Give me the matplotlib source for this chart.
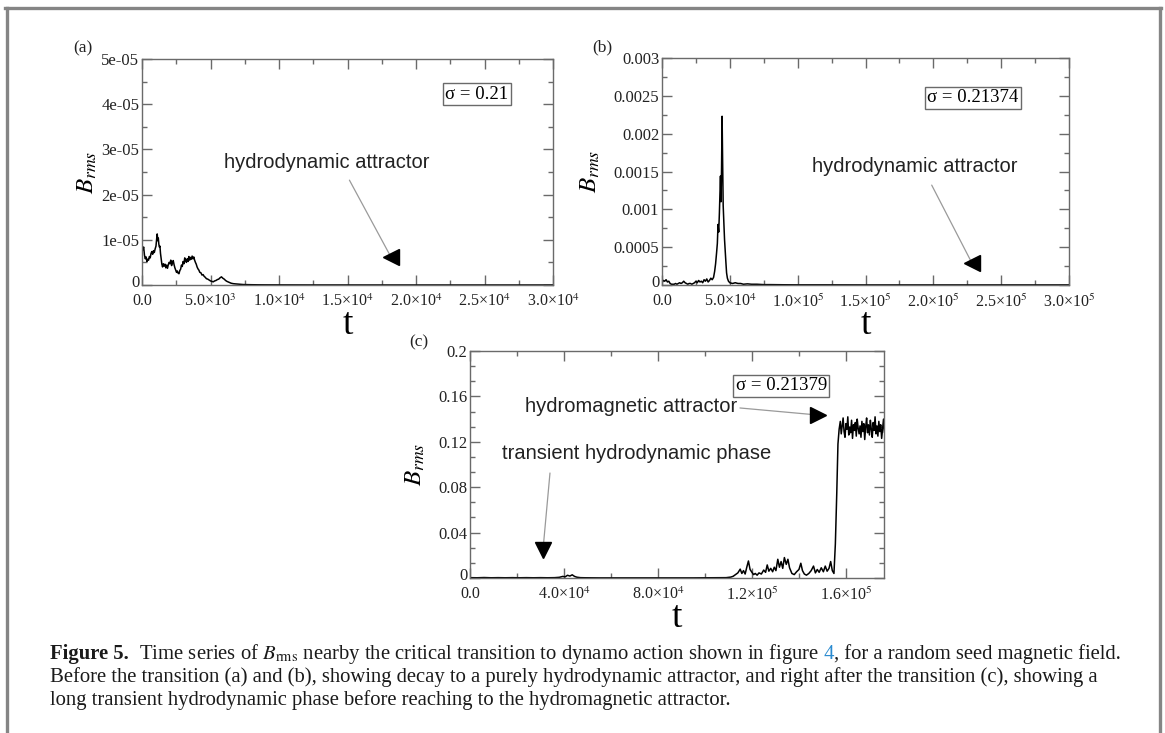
import numpy as np
import matplotlib
matplotlib.use("Agg")
import matplotlib.pyplot as plt
import matplotlib.transforms as mtransforms
from matplotlib.ticker import AutoMinorLocator
from matplotlib.lines import Line2D

plt.rcParams["font.family"] = ["Liberation Serif", "DejaVu Serif"]
plt.rcParams["mathtext.fontset"] = "stix"

# ---- panel (a): sigma = 0.21, B_rms in units of 1e-5 ----
t_a = [0, 60, 120, 180, 240, 300, 360, 420, 480, 540, 600, 660, 720, 780, 840, 900,
       960, 1020, 1070, 1110, 1150, 1190, 1230, 1270, 1310, 1350, 1400, 1450, 1500,
       1560, 1620, 1680, 1740, 1800, 1860, 1920, 1980, 2040, 2100, 2160, 2220, 2280,
       2340, 2400, 2460, 2520, 2580, 2640, 2700, 2760, 2820, 2880, 2940, 3000, 3060,
       3120, 3180, 3240, 3300, 3360, 3420, 3480, 3540, 3600, 3660, 3720, 3780, 3840,
       3900, 3960, 4020, 4080, 4150, 4220, 4300, 4380, 4460, 4540, 4620, 4700, 4800,
       4900, 5000, 5100, 5200, 5300, 5400, 5500, 5600, 5700, 5800, 5900, 6000, 6100,
       6200, 6350, 6500, 6650, 6800, 7000, 7200, 7400, 7700, 8000, 8500, 9000, 10000,
       11000, 12000, 14000, 16000, 18000, 20000, 22000, 24000, 26000, 28000, 30000]
b_a = [0.88, 0.78, 0.84, 0.66, 0.58, 0.62, 0.52, 0.57, 0.55, 0.63, 0.60, 0.70, 0.74,
       0.68, 0.76, 0.72, 0.80, 0.86, 1.02, 1.13, 0.98, 1.04, 0.90, 0.84, 0.86, 0.70,
       0.58, 0.46, 0.40, 0.47, 0.42, 0.46, 0.38, 0.44, 0.37, 0.45, 0.50, 0.47, 0.55,
       0.43, 0.50, 0.54, 0.45, 0.38, 0.33, 0.28, 0.31, 0.26, 0.25, 0.32, 0.35,
       0.44, 0.41, 0.52, 0.47, 0.60, 0.54, 0.50, 0.58, 0.52, 0.63, 0.55, 0.61, 0.57,
       0.64, 0.58, 0.62, 0.55, 0.50, 0.46, 0.40, 0.36, 0.33, 0.28, 0.27, 0.22, 0.23,
       0.19, 0.17, 0.14, 0.13, 0.11, 0.09, 0.08, 0.07, 0.09, 0.10, 0.12, 0.13, 0.16,
       0.18, 0.15, 0.13, 0.10, 0.08, 0.06, 0.04, 0.03, 0.025, 0.02, 0.015, 0.01, 0.008,
       0.006, 0.004, 0.003, 0.002, 0.0015, 0.001, 0.0008, 0.0006, 0.0005, 0.0004,
       0.0003, 0.0003, 0.0002, 0.0002, 0.0002]

# ---- panel (b): sigma = 0.21374, t in units of 1e3, B_rms in units of 1e-3 ----
t_b = [0, 1, 2, 3, 4, 5, 6, 7, 8, 9, 10, 11, 12, 13, 14, 15, 16, 17, 18, 19, 20, 21,
       22, 23, 24, 25, 26, 27, 28, 29, 30, 31, 32, 33, 34, 35, 36, 37, 38,
       38.8, 39.5, 40.2, 40.8, 41.3, 41.8, 42.3, 42.7, 43.1, 43.5, 43.9, 44.3, 44.7,
       45.1, 45.6, 46.1, 46.6, 47.1, 47.6, 48.2, 49,
       50, 52, 54, 56, 58, 60, 63, 66, 70, 75, 80, 90, 100, 120, 150, 200, 250, 300]
b_b = [0.03, 0.06, 0.05, 0.07, 0.04, 0.05, 0.02, 0.01, 0.01, 0.01, 0.02, 0.01, 0.02,
       0.03, 0.02, 0.03, 0.05, 0.03, 0.02, 0.01, 0.02, 0.02, 0.01, 0.02, 0.03, 0.05,
       0.03, 0.06, 0.04, 0.05, 0.03, 0.07, 0.05, 0.08, 0.04, 0.06, 0.09, 0.07, 0.10,
       0.18, 0.28, 0.42, 0.55, 0.80, 0.70, 0.95, 1.20, 1.44, 1.10, 1.55, 2.23, 1.62,
       1.05, 0.82, 0.60, 0.45, 0.30, 0.16, 0.09, 0.05,
       0.03, 0.02, 0.03, 0.02, 0.02, 0.01, 0.015, 0.01, 0.01, 0.005, 0.005, 0.003,
       0.002, 0.002, 0.001, 0.001, 0.001, 0.001]

# ---- panel (c): sigma = 0.21379, t in units of 1e3 ----
t_c = [0, 3, 6, 9, 12, 15, 18, 21, 24, 27, 30, 33, 36, 38, 39.5, 40.5, 41.5, 42.5,
       43.5, 44.5, 45.5, 47, 49, 55, 65, 75, 85, 95, 105, 109,
       111, 112, 113, 114, 115, 115.7, 116.4, 117.1, 117.8, 118.5, 119.2, 120, 120.7,
       121.4, 122.2, 123, 124, 125, 125.8, 126.5, 127.2, 128, 128.8, 129.5, 130.2,
       131, 131.7, 132.4, 133.1, 133.8, 134.6, 135.3, 136, 137, 138, 139, 140, 140.8,
       141.5, 142.3, 143.2, 144.2, 145.2, 146.2, 147, 147.8, 148.6, 149.5, 150.4,
       151.2, 152, 152.8, 153.5, 154.2, 154.9,
       155.5, 156.1, 156.6, 157.1,
       157.6, 158.0, 158.4, 158.8, 159.2, 159.6, 160.0, 160.4, 160.8, 161.2, 161.6,
       162.0, 162.4, 162.8, 163.2, 163.6, 164.0, 164.4, 164.8, 165.2, 165.6, 166.0,
       166.4, 166.8, 167.2, 167.6, 168.0, 168.4, 168.8, 169.2, 169.6, 170.0, 170.4,
       170.8, 171.2, 171.6, 172.0, 172.4, 172.8, 173.2, 173.6, 174.0, 174.4, 174.8,
       175.2, 175.6, 176.0, 176.4, 176.8, 177.2]
b_c = [0.0003, 0.0002, 0.0004, 0.0002, 0.0003, 0.0002, 0.0003, 0.0002, 0.0003,
       0.0002, 0.0003, 0.0002, 0.0003, 0.0006, 0.0014, 0.0010, 0.0024, 0.0017,
       0.0028, 0.0014, 0.0007, 0.0003, 0.0002, 0.0001, 0.0001, 0.0001, 0.0001,
       0.0001, 0.0002, 0.0003,
       0.0008, 0.0015, 0.003, 0.0045, 0.0078, 0.004, 0.0065, 0.0035, 0.0095, 0.015,
       0.0075, 0.005, 0.003, 0.004, 0.0025, 0.0045, 0.0035, 0.007, 0.005, 0.0115,
       0.006, 0.0085, 0.0055, 0.0095, 0.0065, 0.0165, 0.0095, 0.0145, 0.0085, 0.018,
       0.012, 0.0165, 0.009, 0.004, 0.003, 0.0055, 0.0075, 0.013, 0.0065, 0.0035,
       0.0025, 0.004, 0.0065, 0.0105, 0.0045, 0.0075, 0.005, 0.009, 0.0055, 0.0105,
       0.006, 0.0085, 0.0145, 0.0065, 0.004,
       0.03, 0.075, 0.118, 0.131,
       0.138, 0.127, 0.134, 0.141, 0.129, 0.124, 0.136, 0.131, 0.142, 0.126, 0.133,
       0.128, 0.139, 0.123, 0.135, 0.130, 0.137, 0.125, 0.140, 0.132, 0.127, 0.134,
       0.124, 0.138, 0.129, 0.136, 0.122, 0.133, 0.141, 0.128, 0.135, 0.126, 0.139,
       0.131, 0.124, 0.137, 0.130, 0.142, 0.127, 0.134, 0.125, 0.138, 0.129, 0.135,
       0.123, 0.132, 0.140, 0.128, 0.136, 0.130]

# ticks and labels
xt_a = [0, 5e3, 1e4, 1.5e4, 2e4, 2.5e4, 3e4]
xl_a = ["0.0", "5.0×10$^{3}$", "1.0×10$^{4}$", "1.5×10$^{4}$", "2.0×10$^{4}$",
        "2.5×10$^{4}$", "3.0×10$^{4}$"]
yt_a = [0, 1e-5, 2e-5, 3e-5, 4e-5, 5e-5]
yl_a = ["0", "1e-05", "2e-05", "3e-05", "4e-05", "5e-05"]

xt_b = [0, 5e4, 1e5, 1.5e5, 2e5, 2.5e5, 3e5]
xl_b = ["0.0", "5.0×10$^{4}$", "1.0×10$^{5}$", "1.5×10$^{5}$", "2.0×10$^{5}$",
        "2.5×10$^{5}$", "3.0×10$^{5}$"]
yt_b = [0, 0.0005, 0.001, 0.0015, 0.002, 0.0025, 0.003]
yl_b = ["0", "0.0005", "0.001", "0.0015", "0.002", "0.0025", "0.003"]

xt_c = [0, 4e4, 8e4, 1.2e5, 1.6e5]
xl_c = ["0.0", "4.0×10$^{4}$", "8.0×10$^{4}$", "1.2×10$^{5}$", "1.6×10$^{5}$"]
yt_c = [0, 0.04, 0.08, 0.12, 0.16, 0.2]
yl_c = ["0", "0.04", "0.08", "0.12", "0.16", "0.2"]

sigmas = ["σ = 0.21", "σ = 0.21374", "σ = 0.21379"]

W, H = 1165, 733
fig = plt.figure(figsize=(W / 100, H / 100), dpi=100)


def box(l, t, r, b):
    return [l / W, 1 - b / H, (r - l) / W, (b - t) / H]


ax_a = fig.add_axes(box(142, 59, 553, 285))
ax_b = fig.add_axes(box(662, 58, 1069, 285))
ax_c = fig.add_axes(box(470, 351, 884, 578))

GRAY = "#6a6a6a"


def style(ax, xt, xl, yt, yl, xmax, ymax, nminor_y, ylab_x):
    ax.set_xlim(0, xmax)
    ax.set_ylim(0, ymax)
    ax.set_xticks(xt)
    ax.set_xticklabels(xl)
    ax.set_yticks(yt)
    ax.set_yticklabels(yl)
    ax.xaxis.set_minor_locator(AutoMinorLocator(2))
    ax.yaxis.set_minor_locator(AutoMinorLocator(nminor_y))
    ax.tick_params(which="both", direction="in", top=True, right=True,
                   color=GRAY, labelcolor="#222222")
    ax.tick_params(which="major", length=7, width=1)
    ax.tick_params(which="minor", length=3.5, width=1)
    ax.tick_params(axis="x", labelsize=11.5, pad=6)
    ax.tick_params(axis="y", labelsize=12, pad=2)
    for s in ax.spines.values():
        s.set_color(GRAY)
        s.set_linewidth(1)
    # lift the y "0" a little so it sits just above the x "0.0"
    zero = ax.get_yticklabels()[0]
    zero.set_transform(zero.get_transform() +
                       mtransforms.ScaledTranslation(0, 3 / 72, fig.dpi_scale_trans))
    ax.set_xlabel("t", fontsize=27)
    ax.xaxis.set_label_coords(0.5, -0.10)
    ax.set_ylabel(r"$B_{rms}$", fontsize=18)
    ax.yaxis.set_label_coords(ylab_x, 0.5)


def pointer(ax, start, head, marker):
    ax.annotate("", xy=head, xytext=start,
                arrowprops=dict(arrowstyle="-", color="#9a9a9a", lw=0.9,
                                shrinkA=0, shrinkB=0))
    ax.plot([head[0]], [head[1]], marker=marker, ms=11, color="black",
            clip_on=False, zorder=5)


ann_font = dict(family="Liberation Sans", fontsize=14.5, color="#222222")
sig_box = dict(boxstyle="square,pad=0.12", fc="white", ec=GRAY, lw=1)

# (a)
ax_a.plot(t_a, np.array(b_a) * 1e-5, color="black", lw=1.1)
style(ax_a, xt_a, xl_a, yt_a, yl_a, 3e4, 5e-5, 2, -0.105)
ax_a.text(0.815, 0.845, sigmas[0], transform=ax_a.transAxes, fontsize=13.5,
          ha="center", va="center", bbox=sig_box)
ax_a.text(13460, 2.7e-5, "hydrodynamic attractor", ha="center", va="center", **ann_font)
pointer(ax_a, (15140, 2.32e-5), (18170, 0.62e-5), "<")

# (b)
ax_b.plot(np.array(t_b) * 1e3, np.array(b_b) * 1e-3, color="black", lw=1.1)
style(ax_b, xt_b, xl_b, yt_b, yl_b, 3e5, 0.003, 2, -0.147)
ax_b.text(0.764, 0.824, sigmas[1], transform=ax_b.transAxes, fontsize=13.5,
          ha="center", va="center", bbox=sig_box)
ax_b.text(186300, 0.00157, "hydrodynamic attractor", ha="center", va="center", **ann_font)
pointer(ax_b, (198800, 0.00132), (228300, 0.000295), "<")

# (c)
ax_c.plot(np.array(t_c) * 1e3, b_c, color="black", lw=1.1)
style(ax_c, xt_c, xl_c, yt_c, yl_c, 1.762e5, 0.2, 3, -0.103)
ax_c.text(0.752, 0.846, sigmas[2], transform=ax_c.transAxes, fontsize=13.5,
          ha="center", va="center", bbox=sig_box)
ax_c.text(68700, 0.1515, "hydromagnetic attractor", ha="center", va="center", **ann_font)
pointer(ax_c, (114900, 0.1498), (148000, 0.1436), ">")
ax_c.text(71060, 0.1093, "transient hydrodynamic phase", ha="center", va="center", **ann_font)
pointer(ax_c, (34040, 0.0925), (31060, 0.0247), "v")

# panel letters
for lab, (px, py) in zip(["(a)", "(b)", "(c)"], [(83, 48), (602, 47), (419, 342)]):
    fig.text(px / W, 1 - py / H, lab, fontsize=12.5, ha="center", va="center",
             color="#222222")

# outer frame (left, top, right)
fc = "#858585"
fig.add_artist(Line2D([6.5 / W, 6.5 / W], [0, 1 - 8 / H], color=fc, lw=2.4,
                      transform=fig.transFigure))
fig.add_artist(Line2D([5.3 / W, 1160.7 / W], [1 - 8 / H, 1 - 8 / H], color=fc, lw=2.4,
                      transform=fig.transFigure))
fig.add_artist(Line2D([1159.5 / W, 1159.5 / W], [0, 1 - 8 / H], color=fc, lw=2.4,
                      transform=fig.transFigure))

# caption, drawn piece by piece (spaces lead each piece so widths include them)
renderer = fig.canvas.get_renderer()
cap_size = 14.85


def put_line(x, y, pieces):
    for txt, kw in pieces:
        t = fig.text(x / W, 1 - y / H, txt, fontsize=cap_size, va="baseline",
                     ha="left", color=kw.get("color", "#1a1a1a"),
                     fontweight=kw.get("weight", "normal"))
        x += t.get_window_extent(renderer).width


put_line(50, 659, [("Figure 5.", {"weight": "bold"}),
                   ("  Time series of $B_{\\rm rms}$ nearby the critical transition to "
                    "dynamo action shown in figure", {}),
                   (" 4", {"color": "#2a8bd0"}),
                   (", for a random seed magnetic field.", {})])
put_line(50, 682, [("Before the transition (a) and (b), showing decay to a purely "
                    "hydrodynamic attractor, and right after the transition (c), "
                    "showing a", {})])
put_line(50, 705, [("long transient hydrodynamic phase before reaching to the "
                    "hydromagnetic attractor.", {})])

fig.savefig("out.png", dpi=100)
